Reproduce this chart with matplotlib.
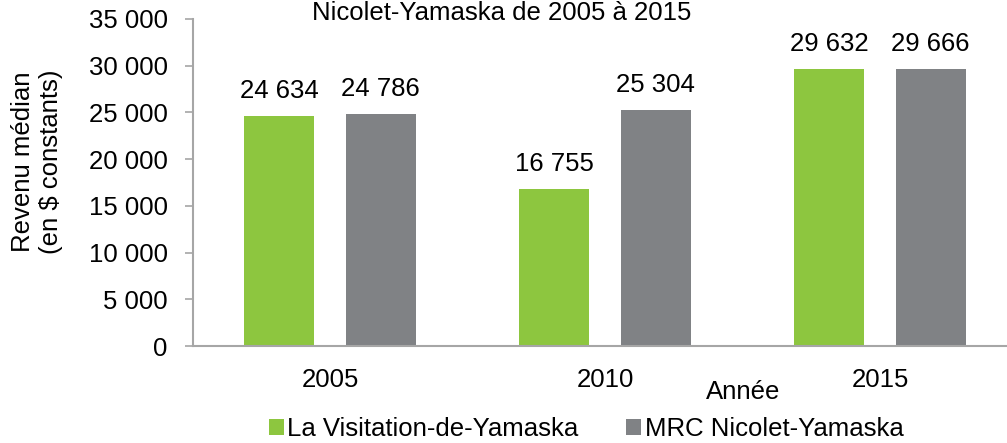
import matplotlib
matplotlib.use("Agg")
import matplotlib.pyplot as plt
import numpy as np
from matplotlib.patches import Patch
from matplotlib.ticker import FuncFormatter

years = ["2005", "2010", "2015"]
series_names = ["La Visitation-de-Yamaska", "MRC Nicolet-Yamaska"]
visitation = [24634, 16755, 29632]
mrc = [24786, 25304, 29666]
title_text = "Nicolet-Yamaska de 2005 à 2015"
ylabel_text = "Revenu médian\n(en $ constants)"
xlabel_text = "Année"

GREEN = "#8DC63F"
GREY = "#808285"
SPINE = "#A6A6A6"
FS = 18.5

plt.rcParams["font.family"] = ["Liberation Sans", "DejaVu Sans"]
plt.rcParams["font.size"] = FS

W, H = 1007, 443
fig = plt.figure(figsize=(W / 100, H / 100), dpi=100)
ax = fig.add_axes([192.5 / W, 97 / H, 814.5 / W, 327 / H])

x = np.arange(len(years))
bw = 0.2545
off = 0.184
b1 = ax.bar(x - off, visitation, bw, color=GREEN, zorder=2)
b2 = ax.bar(x + off, mrc, bw, color=GREY, zorder=2)

def fmt(v):
    return f"{int(round(v)):,}".replace(",", " ")

for bars, vals in ((b1, visitation), (b2, mrc)):
    for r, v in zip(bars, vals):
        ax.annotate(fmt(v), (r.get_x() + r.get_width() / 2, v),
                    xytext=(0, 13), textcoords="offset points",
                    ha="center", va="baseline", fontsize=FS)

ax.set_xlim(-0.5, -0.5 + 814.5 / 275)
ax.set_ylim(0, 35000)
ax.set_yticks(np.arange(0, 35001, 5000))
ax.yaxis.set_major_formatter(FuncFormatter(lambda v, p: fmt(v)))
ax.set_xticks(x)
ax.set_xticklabels(years)

for s in ("top", "right"):
    ax.spines[s].set_visible(False)
for s in ("left", "bottom"):
    ax.spines[s].set_color(SPINE)
    ax.spines[s].set_linewidth(1.5)

ax.tick_params(axis="y", length=5.8, width=1.2, color=SPINE, pad=12, labelsize=FS)
ax.tick_params(axis="x", length=0, pad=16, labelsize=FS)

fig.text(37 / W, (H - 162) / H, ylabel_text, rotation=90, ha="center", va="center",
         fontsize=FS, linespacing=1.2)
fig.text(743 / W, (H - 392) / H, xlabel_text, ha="center", va="center", fontsize=FS)
fig.text(502 / W, (H - 20) / H, title_text, ha="center", va="baseline", fontsize=FS)

handles = [Patch(facecolor=GREEN, edgecolor="none"), Patch(facecolor=GREY, edgecolor="none")]
fig.legend(handles, series_names, ncol=2, loc="center",
           bbox_to_anchor=(586 / W, (H - 429) / H), frameon=False,
           handlelength=0.6, handleheight=0.6, handletextpad=0.12,
           columnspacing=1.85, fontsize=FS, borderpad=0, borderaxespad=0)

fig.savefig("out.png", dpi=100)
